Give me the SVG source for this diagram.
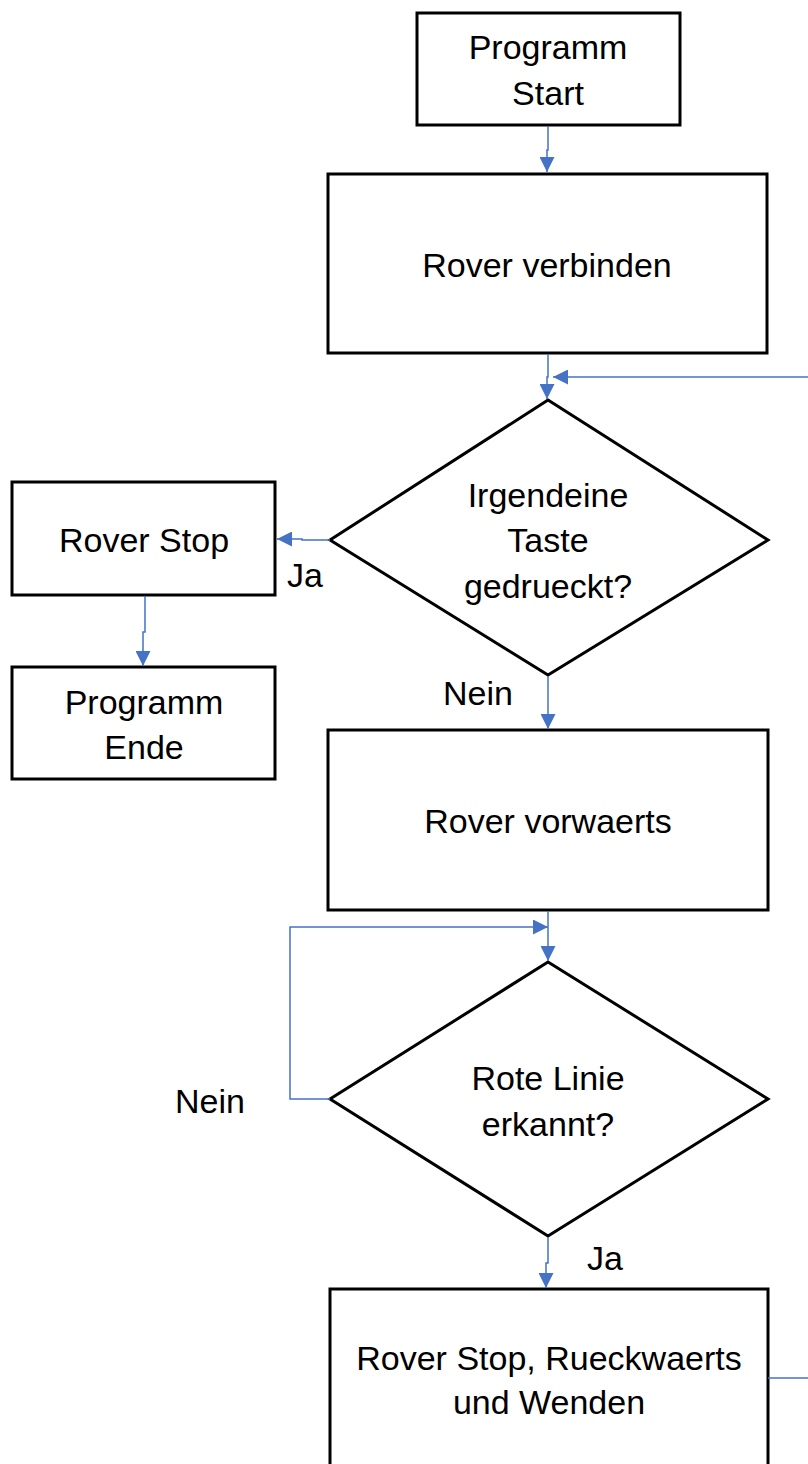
<svg xmlns="http://www.w3.org/2000/svg" width="808" height="1464" viewBox="0 0 808 1464">
<style>
.n{fill:#fff;stroke:#000;stroke-width:3}
.t{font-family:"Liberation Sans",Arial,sans-serif;font-size:34px;fill:#000;text-anchor:middle;dominant-baseline:central}
.c{fill:none;stroke:#4472C4;stroke-width:1.5}
</style>
<defs>
<marker id="b" viewBox="0 0 10 10" refX="10" refY="5" markerWidth="15" markerHeight="15" markerUnits="userSpaceOnUse" orient="auto"><path d="M0,0L10,5L0,10z" fill="#4472C4"/></marker>
</defs>
<rect width="808" height="1464" fill="#fff"/>
<g id="start"><rect class="n" x="417" y="13" width="263" height="112"/><text class="t" x="548" y="47">Programm</text><text class="t" x="548" y="93">Start</text></g>
<g id="verbinden"><rect class="n" x="328" y="174" width="439" height="179"/><text class="t" x="547" y="265">Rover verbinden</text></g>
<g id="taste"><path class="n" d="M548,400L768,540L548,675L330,540z"/><text class="t" x="548" y="495">Irgendeine</text><text class="t" x="548" y="540">Taste</text><text class="t" x="548" y="586">gedrueckt?</text></g>
<g id="roverstop"><rect class="n" x="12" y="482" width="263" height="113"/><text class="t" x="144" y="540">Rover Stop</text></g>
<g id="ende"><rect class="n" x="12" y="667" width="263" height="112"/><text class="t" x="144" y="702">Programm</text><text class="t" x="144" y="747">Ende</text></g>
<g id="vorwaerts"><rect class="n" x="328" y="730" width="440" height="180"/><text class="t" x="548" y="821">Rover vorwaerts</text></g>
<g id="linie"><path class="n" d="M548,962L768,1099L548,1236L330,1099z"/><text class="t" x="548" y="1078">Rote Linie</text><text class="t" x="548" y="1124">erkannt?</text></g>
<g id="wenden"><rect class="n" x="330" y="1289" width="438" height="190"/><text class="t" x="549" y="1358">Rover Stop, Rueckwaerts</text><text class="t" x="549" y="1402">und Wenden</text></g>
<g id="connectors">
<path class="c" marker-end="url(#b)" d="M548,126V150H547V172"/>
<path class="c" marker-end="url(#b)" d="M548,354V377H547V399"/>
<path class="c" marker-end="url(#b)" d="M808,377H553"/>
<path class="c" marker-end="url(#b)" d="M330,540H302V539H277"/>
<path class="c" marker-end="url(#b)" d="M145,596V632H143V666"/>
<path class="c" marker-end="url(#b)" d="M548,676V729"/>
<path class="c" marker-end="url(#b)" d="M548,911V961"/>
<path class="c" marker-end="url(#b)" d="M330,1099H290V927H548"/>
<path class="c" marker-end="url(#b)" d="M548,1237V1263H546V1288"/>
<path class="c" d="M768,1378H808"/>
</g>
<g id="labels">
<text class="t" x="305" y="575">Ja</text>
<text class="t" x="478" y="693">Nein</text>
<text class="t" x="210" y="1101">Nein</text>
<text class="t" x="605" y="1258">Ja</text>
</g>
</svg>
